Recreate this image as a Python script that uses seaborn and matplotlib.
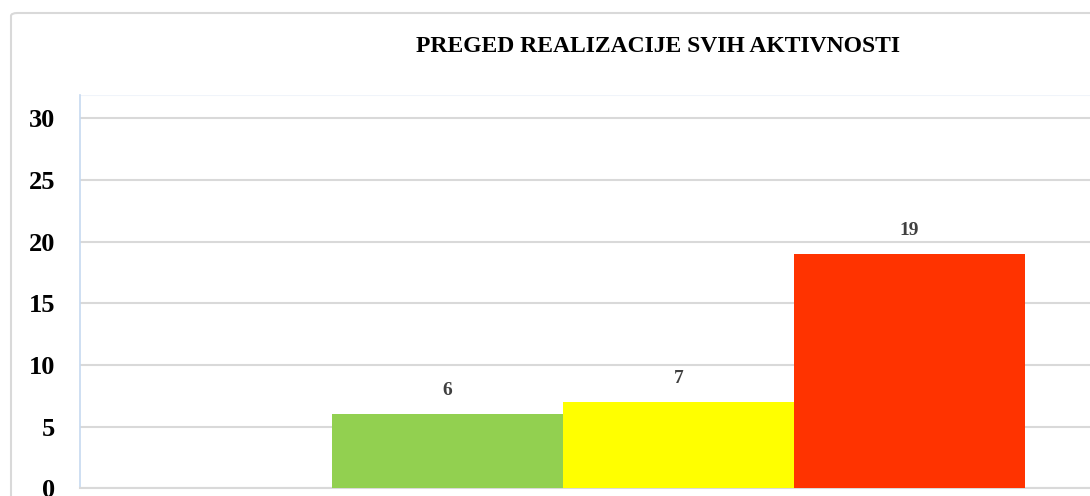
import numpy as np
import pandas as pd
import seaborn as sns
import matplotlib.pyplot as plt
from matplotlib.patches import FancyBboxPatch

# Data
categories = ["Realizovano", "Djelimično realizovano", "Nije realizovano"]
values = [6, 7, 19]
bar_colors = ["#92D050", "#FFFF00", "#FF3300"]
y_ticks = [0, 5, 10, 15, 20, 25, 30]
title = "PREGED REALIZACIJE SVIH AKTIVNOSTI"

sns.set_theme(style="white")
plt.rcParams['font.family'] = ['Liberation Serif', 'DejaVu Serif']

W, H = 1090, 496
fig = plt.figure(figsize=(W / 100, H / 100), dpi=100)

# outer chart frame (cut off at right and bottom like the source)
frame = FancyBboxPatch((11 / W, 1 - 13 / H - 1.2), 1.2, 1.2,
                       boxstyle="round,pad=0,rounding_size=0.006",
                       transform=fig.transFigure, facecolor="none",
                       edgecolor="#d9d9d9", linewidth=1.5, zorder=-5)
fig.patches.append(frame)

ax = fig.add_axes([80 / W, (H - 488.3) / H, (W - 80) / W, (488.3 - 95) / H])
ax.set_facecolor("none")
ax.set_zorder(2)

df = pd.DataFrame({"kategorija": categories, "broj": values})
sns.barplot(data=df, x="kategorija", y="broj", hue="kategorija",
            palette=bar_colors, legend=False, width=1.0, saturation=1,
            linewidth=0, ax=ax, zorder=3)

for cont in ax.containers:
    ax.bar_label(cont, padding=11, fontsize=14, fontweight="bold", color="#404040")

ax.set_ylim(0, 31.9)
ax.set_xlim(-1.591, 2.781)
ax.set_yticks(y_ticks)
ax.set_yticklabels([str(t) for t in y_ticks], fontsize=19, fontweight="bold", color="black")
ax.tick_params(axis="y", length=0, pad=18)
ax.set_xticks([])
ax.set_xlabel("")
ax.set_ylabel("")

ax.grid(axis="y", color="#d9d9d9", linewidth=1.5, zorder=0)
ax.set_axisbelow(True)
for side in ["top", "right"]:
    ax.spines[side].set_visible(False)
ax.spines["left"].set_color("#c6d9f0")
ax.spines["left"].set_linewidth(1.2)
ax.spines["bottom"].set_color("#d9d9d9")
ax.spines["bottom"].set_linewidth(1.5)
# faint plot-area top edge
ax.axhline(31.9, color="#f0f4fa", linewidth=1.5, zorder=1)

fig.text(658 / W, 1 - 47 / H, title, ha="center", va="center",
         fontsize=17, fontweight="bold", color="black")

fig.savefig("out.png", dpi=100)
